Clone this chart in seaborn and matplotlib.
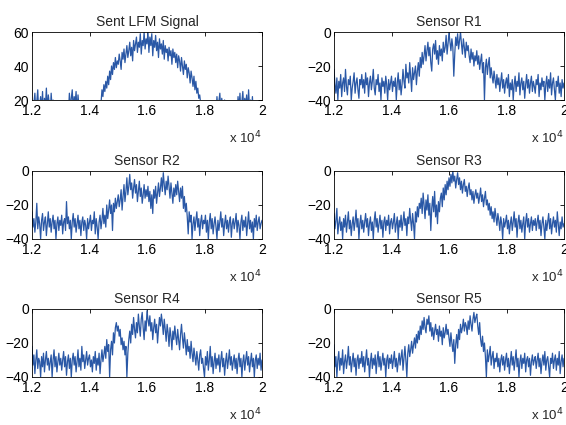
import numpy as np
import seaborn as sns
from matplotlib import pyplot as plt

# frequency axis (Hz): 12 kHz to 20 kHz, values read every ~1/300 of the span
F_START, F_STOP = 12000, 20000

sent_lfm = [
    15, 11, 18, 24, 13, 19, 26, 12, 17, 22, 14, 25, 10, 21, 16, 27, 13, 23, 18, 11, 24, 15, 20, 12, 9, 14, 11, 16, 10, 13,
    12, 9, 15, 11, 14, 10, 13, 17, 12, 24, 15, 21, 26, 14, 22, 18, 25, 12, 23, 16, 11, 14, 9, 13, 10, 15, 12, 8, 14, 11,
    13, 10, 16, 12, 9, 14, 11, 15, 12, 17, 10, 14, 18, 26, 22, 29, 25, 31, 27, 34, 29, 37, 32, 40, 35, 42, 38, 45, 39, 43,
    41, 47, 43, 38, 48, 44, 50, 42, 47, 52, 45, 49, 54, 46, 51, 43, 55, 49, 53, 57, 48, 54, 51, 59, 47, 55, 52, 60, 50, 56,
    53, 60, 48, 57, 52, 59, 46, 55, 51, 58, 49, 54, 45, 56, 50, 53, 47, 55, 44, 52, 48, 50, 43, 51, 46, 49, 41, 50, 45, 48,
    42, 47, 39, 46, 43, 37, 45, 40, 35, 43, 38, 41, 33, 39, 36, 30, 37, 33, 28, 34, 26, 31, 24, 27, 21, 23, 18, 15, 12, 14,
    11, 14, 9, 13, 16, 10, 12, 15, 11, 13, 9, 17, 12, 22, 14, 19, 24, 13, 21, 16, 11, 20, 14, 12, 10, 15, 13, 11, 16, 12,
    14, 10, 13, 16, 11, 22, 15, 24, 12, 19, 25, 14, 21, 17, 23, 12, 26, 15, 20, 13, 22, 11, 16, 12, 10, 14, 13, 9, 15, 12,
    13,
]

sensor_r1 = [
    -22, -31, -36, -27, -40, -29, -33, -25, -38, -30, -27, -35, -22, -32, -37, -28, -31, -26, -40, -33, -29, -24, -36, -30, -27, -34, -39, -28, -31, -25,
    -33, -28, -36, -24, -31, -27, -38, -30, -26, -34, -29, -22, -33, -37, -28, -31, -25, -35, -30, -40, -27, -32, -29, -36, -26, -31, -40, -28, -34, -30,
    -26, -35, -29, -32, -27, -40, -30, -24, -34, -28, -37, -31, -22, -29, -33, -19, -27, -24, -30, -18, -26, -35, -21, -28, -24, -20, -31, -23, -18, -26,
    -15, -21, -12, -19, -14, -8, -17, -11, -6, -14, -9, -18, -23, -10, -7, -13, -5, -16, -11, -19, -8, -14, -10, -17, -6, -12, -9, -2, -13, -7,
    0, -6, -11, -4, -9, -26, -13, -3, -8, -1, -10, -5, 0, -7, -13, -4, -9, -15, -6, -11, -8, -14, -18, -10, -16, -12, -20, -14, -17, -11,
    -19, -14, -22, -17, -13, -24, -18, -40, -21, -16, -25, -19, -15, -27, -21, -26, -30, -23, -28, -33, -25, -31, -27, -35, -29, -24, -33, -28, -36, -30,
    -27, -33, -25, -38, -30, -34, -28, -40, -31, -26, -35, -29, -32, -24, -37, -30, -27, -34, -29, -39, -31, -25, -33, -28, -36, -30, -26, -35, -29, -32,
    -36, -28, -31, -25, -38, -30, -34, -27, -32, -29, -40, -31, -26, -35, -28, -33, -24, -37, -30, -27, -34, -40, -29, -32, -26, -36, -30, -38, -28, -33,
    -30,
]

sensor_r2 = [
    -24, -33, -28, -36, -30, -19, -34, -27, -31, -40, -29, -25, -35, -30, -27, -38, -31, -24, -33, -28, -36, -30, -26, -34, -29, -40, -31, -27, -35, -29,
    -32, -26, -37, -30, -28, -35, -18, -31, -27, -34, -29, -40, -30, -25, -33, -28, -36, -31, -26, -34, -29, -38, -30, -27, -35, -29, -32, -40, -28, -34,
    -30, -26, -35, -29, -31, -24, -37, -28, -33, -40, -30, -26, -34, -29, -22, -31, -26, -33, -20, -28, -23, -17, -25, -20, -35, -19, -24, -16, -22, -18,
    -14, -21, -17, -11, -23, -15, -8, -18, -12, -4, -14, -9, -2, -11, -7, -16, -10, -5, -13, -8, -18, -12, -6, -15, -10, -19, -14, -8, -16, -11,
    -15, -9, -18, -12, -22, -14, -25, -11, -16, -9, -19, -13, -7, -15, -10, -4, -12, -1, -8, -14, -6, -11, -3, -9, -16, -7, -13, -19, -10, -15,
    -8, -14, -6, -12, -18, -10, -16, -9, -22, -15, -24, -19, -27, -37, -24, -30, -26, -40, -31, -27, -35, -29, -24, -33, -28, -38, -30, -26, -34, -29,
    -31, -26, -36, -29, -40, -30, -25, -34, -28, -37, -31, -27, -33, -40, -29, -35, -30, -24, -33, -28, -38, -31, -26, -34, -29, -36, -30, -27, -39, -31,
    -28, -34, -30, -25, -36, -29, -32, -40, -30, -26, -35, -29, -33, -27, -38, -31, -24, -34, -29, -36, -30, -40, -28, -33, -26, -35, -30, -27, -34, -31,
    -29,
]

sensor_r3 = [
    -25, -34, -29, -22, -37, -31, -27, -35, -30, -40, -28, -33, -26, -36, -30, -24, -34, -29, -38, -31, -27, -35, -30, -23, -33, -28, -40, -31, -26, -34,
    -29, -36, -30, -25, -33, -28, -38, -31, -27, -35, -30, -40, -29, -24, -33, -28, -36, -31, -26, -34, -29, -39, -30, -27, -35, -29, -32, -26, -37, -30,
    -28, -34, -30, -25, -36, -31, -27, -40, -29, -33, -26, -35, -30, -24, -32, -28, -38, -27, -31, -22, -29, -35, -25, -31, -40, -24, -30, -21, -27, -19,
    -22, -16, -25, -13, -20, -28, -17, -23, -14, -26, -19, -35, -22, -15, -24, -12, -27, -20, -31, -18, -24, -16, -13, -21, -10, -17, -8, -14, -6, -11,
    -4, -9, -2, -7, 0, -6, -3, -10, -5, -1, -8, -4, -11, -6, -13, -8, -5, -12, -9, -15, -10, -7, -14, -11, -17, -12, -19, -14, -11, -16,
    -13, -19, -15, -10, -18, -14, -21, -16, -12, -20, -17, -23, -19, -26, -21, -28, -24, -30, -22, -27, -32, -25, -29, -35, -27, -31, -40, -28, -33, -30,
    -26, -34, -29, -37, -31, -27, -35, -30, -24, -33, -28, -39, -30, -26, -34, -29, -36, -31, -27, -40, -30, -25, -33, -28, -36, -31, -27, -35, -29, -32,
    -28, -35, -30, -26, -34, -29, -38, -31, -27, -33, -40, -29, -35, -30, -25, -34, -28, -37, -31, -27, -33, -29, -36, -24, -31, -38, -30, -34, -27, -33,
    -31,
]

sensor_r4 = [
    -22, -33, -27, -38, -30, -24, -35, -29, -31, -40, -28, -34, -26, -37, -30, -25, -33, -29, -36, -31, -27, -40, -30, -24, -34, -28, -37, -31, -26, -33,
    -29, -36, -30, -25, -34, -28, -39, -31, -27, -35, -29, -40, -30, -26, -33, -28, -37, -31, -24, -34, -29, -36, -22, -31, -27, -35, -30, -25, -33, -29,
    -27, -34, -30, -37, -28, -32, -25, -36, -29, -33, -26, -38, -30, -24, -31, -27, -22, -29, -18, -25, -21, -40, -24, -19, -27, -14, -20, -11, -8, -13,
    -10, -16, -12, -21, -17, -24, -19, -27, -22, -40, -26, -18, -13, -20, -9, -15, -5, -12, -17, -8, -14, -3, -10, -16, -6, -2, -11, -18, -7, -13,
    -1, -6, -10, -4, -13, -8, -18, -11, -6, -14, -9, -20, -12, -5, -10, -3, -8, -15, -6, -12, -19, -9, -14, -22, -11, -16, -24, -13, -18, -10,
    -16, -21, -12, -18, -24, -15, -9, -17, -23, -14, -20, -27, -18, -25, -22, -29, -19, -26, -31, -23, -28, -33, -25, -30, -36, -27, -24, -32, -29, -35,
    -40, -28, -33, -25, -36, -30, -22, -34, -28, -38, -31, -26, -35, -29, -33, -27, -37, -30, -25, -34, -29, -39, -31, -26, -35, -30, -24, -33, -28, -36,
    -31, -27, -35, -29, -38, -30, -26, -34, -29, -40, -31, -27, -36, -30, -25, -33, -28, -37, -31, -26, -34, -29, -40, -30, -27, -35, -29, -33, -26, -36,
    -30,
]

sensor_r5 = [
    -21, -34, -28, -40, -30, -25, -36, -29, -33, -24, -38, -31, -27, -35, -30, -22, -33, -28, -37, -31, -26, -34, -29, -39, -30, -27, -35, -29, -32, -25,
    -34, -28, -37, -30, -24, -33, -29, -40, -31, -26, -35, -29, -33, -27, -38, -30, -25, -34, -28, -36, -31, -26, -33, -29, -40, -30, -27, -35, -29, -32,
    -27, -35, -30, -25, -34, -29, -37, -31, -26, -33, -28, -24, -36, -29, -22, -30, -40, -26, -21, -28, -24, -19, -26, -21, -17, -23, -15, -20, -13, -18,
    -10, -15, -7, -12, -5, -11, -14, -6, -9, -4, -13, -8, -16, -11, -18, -13, -9, -15, -12, -19, -10, -16, -13, -21, -11, -17, -14, -9, -15, -12,
    -17, -22, -14, -20, -25, -18, -32, -21, -15, -23, -12, -18, -9, -14, -11, -6, -13, -8, -10, -15, -7, -12, -4, -9, -13, -6, -2, -8, -5, -3,
    -10, -15, -8, -18, -22, -16, -25, -20, -28, -40, -24, -31, -27, -22, -33, -28, -25, -35, -29, -31, -26, -34, -29, -37, -30, -27, -33, -28, -36, -30,
    -26, -34, -29, -38, -31, -25, -33, -28, -36, -30, -24, -34, -29, -40, -31, -27, -35, -29, -32, -26, -37, -30, -28, -34, -29, -39, -31, -27, -33, -30,
    -28, -35, -30, -26, -34, -29, -38, -31, -27, -33, -25, -36, -30, -28, -34, -40, -29, -32, -26, -35, -30, -27, -36, -29, -33, -25, -38, -31, -27, -34,
    -29,
]

titles = ['Sent LFM Signal', 'Sensor R1', 'Sensor R2', 'Sensor R3', 'Sensor R4', 'Sensor R5']
series = [sent_lfm, sensor_r1, sensor_r2, sensor_r3, sensor_r4, sensor_r5]
x_ticks = [12000, 14000, 16000, 18000, 20000]
x_ticklabels = ['1.2', '1.4', '1.6', '1.8', '2']


def sensors():
    sns.set_style('white')
    plt.rcParams['font.family'] = ['Liberation Sans', 'DejaVu Sans']
    plt.rcParams['xtick.direction'] = 'in'
    plt.rcParams['ytick.direction'] = 'in'

    fig = plt.figure(figsize=(5.66, 4.25), dpi=100)
    lefts = [32 / 566, 334 / 566]
    bottoms = [1 - 100 / 425, 1 - 239 / 425, 1 - 377 / 425]
    w, h = 230 / 566, 68 / 425

    for i, (title, vals) in enumerate(zip(titles, series)):
        ax = fig.add_axes([lefts[i % 2], bottoms[i // 2], w, h])
        freq = np.linspace(F_START, F_STOP, len(vals))
        sns.lineplot(x=freq, y=vals, ax=ax, color='#2a58a6', linewidth=0.9)
        ax.set_xlim(F_START, F_STOP)
        if i == 0:
            ax.set_ylim(20, 60)
            ax.set_yticks([20, 40, 60])
        else:
            ax.set_ylim(-40, 0)
            ax.set_yticks([-40, -20, 0])
        ax.set_xticks(x_ticks)
        ax.set_xticklabels(x_ticklabels)
        ax.tick_params(labelsize=10, length=3, width=0.6, top=True, right=True,
                       colors='black')
        ax.tick_params(axis='x', pad=3)
        ax.tick_params(axis='y', pad=2)
        for s in ax.spines.values():
            s.set_linewidth(0.6)
            s.set_color('black')
        ax.set_title(title, fontsize=10, pad=4)
        ax.text(1.0, -0.56, r'x 10$^4$', transform=ax.transAxes, ha='right',
                va='center', fontsize=9.5)

    fig.savefig('out.png', dpi=100)


if __name__ == '__main__':
    sensors()
